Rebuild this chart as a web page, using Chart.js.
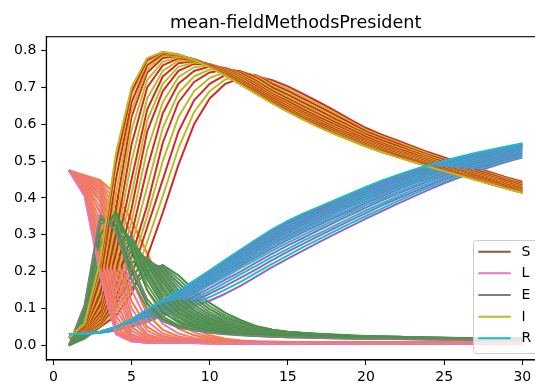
<!DOCTYPE html>
<html>
<head>
<meta charset="utf-8">
<title>mean-fieldMethodsPresident</title>
<script src="https://cdn.jsdelivr.net/npm/chart.js@4.4.1/dist/chart.umd.min.js"></script>
<style>
  html, body { margin: 0; padding: 0; background: #fff; }
  #wrap { width: 535px; height: 383px; overflow: hidden; position: relative; }
  canvas { display: block; }
</style>
</head>
<body>
<div id="wrap"><canvas id="chart" width="560" height="383"></canvas></div>
<script>
// mean-field runs: 20 runs, each plots S, L, E, I, R over 30 steps

const chartTitle = "mean-fieldMethodsPresident";
const xValues = [1,2,3,4,5,6,7,8,9,10,11,12,13,14,15,16,17,18,19,20,21,22,23,24,25,26,27,28,29,30];
const xTicks = [0, 5, 10, 15, 20, 25, 30];
const yTicks = [0.0, 0.1, 0.2, 0.3, 0.4, 0.5, 0.6, 0.7, 0.8];
const seriesNames = ["S", "L", "E", "I", "R"];
// matplotlib tab10 cycle
const palette = ["#1f77b4", "#ff7f0e", "#2ca02c", "#d62728", "#9467bd",
                 "#8c564b", "#e377c2", "#7f7f7f", "#bcbd22", "#17becf"];
const legendColors = ["#8c564b", "#e377c2", "#7f7f7f", "#bcbd22", "#17becf"];

// run 0 is drawn first (slowest), run 19 last (fastest)
const latentRuns = [
  [.475,.462,.448,.41,.34,.25,.155,.085,.045,.027, .018,.013,.011,.01,.009,.009,.009,.009,.009,.009, .009,.009,.009,.009,.008,.008,.008,.008,.008,.008],
  [.475,.46,.443,.393,.30,.20,.115,.063,.035,.022, .015,.012,.01,.009,.009,.008,.008,.008,.008,.008, .008,.008,.008,.008,.008,.008,.008,.008,.008,.008],
  [.475,.458,.437,.375,.26,.15,.08,.045,.027,.018, .013,.011,.009,.008,.008,.008,.008,.008,.008,.008, .008,.008,.008,.008,.008,.008,.008,.008,.008,.008],
  [.475,.456,.431,.353,.22,.115,.058,.032,.02,.014, .011,.009,.008,.008,.007,.007,.007,.007,.007,.007, .007,.007,.007,.007,.007,.007,.007,.007,.007,.007],
  [.475,.454,.425,.33,.18,.085,.042,.024,.016,.012, .01,.008,.007,.007,.007,.007,.007,.007,.007,.007, .007,.007,.007,.007,.007,.007,.007,.007,.007,.007],
  [.475,.452,.418,.305,.15,.066,.032,.019,.013,.01, .009,.008,.007,.006,.006,.006,.006,.006,.006,.006, .006,.006,.006,.006,.006,.006,.006,.006,.006,.006],
  [.475,.449,.41,.28,.12,.05,.025,.015,.011,.009, .008,.007,.006,.006,.006,.006,.006,.006,.006,.006, .006,.006,.006,.006,.006,.006,.006,.006,.006,.006],
  [.475,.447,.40,.25,.10,.04,.02,.013,.01,.008, .007,.006,.006,.006,.006,.006,.006,.006,.006,.006, .006,.006,.006,.006,.006,.006,.006,.006,.006,.006],
  [.475,.444,.39,.22,.08,.03,.016,.011,.009,.008, .007,.006,.006,.006,.006,.006,.006,.006,.006,.006, .006,.006,.006,.006,.006,.006,.006,.006,.006,.006],
  [.475,.441,.375,.195,.065,.025,.014,.01,.008,.007, .006,.006,.006,.006,.006,.006,.006,.006,.006,.006, .006,.006,.006,.006,.006,.006,.006,.006,.006,.006],
  [.475,.438,.36,.17,.05,.02,.012,.009,.008,.007, .006,.006,.006,.006,.006,.006,.006,.006,.006,.006, .006,.006,.006,.006,.006,.006,.006,.006,.006,.006],
  [.475,.435,.34,.145,.04,.016,.01,.008,.007,.006, .006,.006,.005,.005,.005,.005,.005,.005,.005,.005, .005,.005,.005,.005,.005,.005,.005,.005,.005,.005],
  [.475,.432,.32,.12,.03,.013,.009,.008,.007,.006, .006,.006,.005,.005,.005,.005,.005,.005,.005,.005, .005,.005,.005,.005,.005,.005,.005,.005,.005,.005],
  [.475,.428,.30,.10,.025,.011,.008,.007,.006,.006, .006,.005,.005,.005,.005,.005,.005,.005,.005,.005, .005,.005,.005,.005,.005,.005,.005,.005,.005,.005],
  [.475,.425,.28,.08,.02,.01,.008,.007,.006,.006, .006,.005,.005,.005,.005,.005,.005,.005,.005,.005, .005,.005,.005,.005,.005,.005,.005,.005,.005,.005],
  [.475,.42,.255,.065,.017,.009,.007,.006,.006,.006, .005,.005,.005,.005,.005,.005,.005,.005,.005,.005, .005,.005,.005,.005,.005,.005,.005,.005,.005,.005],
  [.475,.415,.23,.05,.014,.008,.007,.006,.006,.006, .005,.005,.005,.005,.005,.005,.005,.005,.005,.005, .005,.005,.005,.005,.005,.005,.005,.005,.005,.005],
  [.475,.41,.21,.04,.012,.007,.006,.006,.006,.005, .005,.005,.005,.005,.005,.005,.005,.005,.005,.005, .005,.005,.005,.005,.005,.005,.005,.005,.005,.005],
  [.475,.407,.20,.035,.011,.007,.006,.006,.006,.005, .005,.005,.005,.005,.005,.005,.005,.005,.005,.005, .005,.005,.005,.005,.005,.005,.005,.005,.005,.005],
  [.475,.405,.19,.03,.01,.007,.006,.006,.006,.005, .005,.005,.005,.005,.005,.005,.005,.005,.005,.005, .005,.005,.005,.005,.005,.005,.005,.005,.005,.005]
];

const exposedRuns = [
  [0,.018,.05,.1,.155,.2,.218,.19,.15,.115, .088,.068,.052,.042,.036,.033,.03,.028,.026,.025, .024,.023,.022,.021,.021,.02,.02,.019,.019,.019],
  [0,.02,.057,.115,.172,.213,.215,.18,.14,.106, .081,.064,.051,.042,.036,.033,.03,.028,.026,.025, .024,.023,.022,.021,.02,.02,.019,.019,.019,.018],
  [0,.022,.065,.13,.19,.225,.21,.17,.13,.098, .075,.06,.05,.042,.037,.033,.031,.029,.027,.025, .024,.023,.022,.021,.02,.02,.019,.019,.018,.018],
  [0,.025,.075,.148,.208,.232,.206,.16,.12,.09, .07,.056,.047,.04,.035,.032,.03,.028,.026,.025, .023,.022,.021,.021,.02,.019,.019,.018,.018,.018],
  [0,.027,.085,.165,.225,.235,.2,.15,.11,.083, .065,.052,.044,.038,.034,.031,.029,.027,.025,.024, .023,.022,.021,.02,.02,.019,.019,.018,.018,.018],
  [0,.03,.095,.183,.24,.237,.193,.14,.102,.077, .061,.05,.042,.036,.033,.03,.028,.026,.025,.023, .022,.021,.021,.02,.019,.019,.018,.018,.018,.017],
  [0,.032,.105,.2,.255,.235,.185,.13,.095,.072, .057,.047,.04,.035,.032,.029,.027,.026,.024,.023, .022,.021,.02,.02,.019,.019,.018,.018,.018,.017],
  [0,.035,.118,.22,.266,.234,.178,.122,.089,.067, .053,.045,.038,.034,.031,.028,.027,.025,.024,.023, .022,.021,.02,.019,.019,.018,.018,.018,.017,.017],
  [0,.038,.13,.24,.275,.23,.17,.115,.083,.063, .05,.043,.037,.033,.03,.028,.026,.025,.024,.022, .021,.021,.02,.019,.019,.018,.018,.018,.017,.017],
  [0,.041,.145,.26,.284,.225,.16,.107,.078,.06, .048,.041,.036,.032,.029,.027,.025,.024,.023,.022, .021,.02,.02,.019,.019,.018,.018,.017,.017,.017],
  [0,.045,.16,.28,.29,.22,.15,.1,.073,.057, .046,.04,.035,.031,.028,.026,.025,.024,.023,.022, .021,.02,.019,.019,.018,.018,.018,.017,.017,.017],
  [0,.05,.18,.30,.292,.21,.14,.094,.068,.053, .044,.038,.033,.03,.027,.026,.024,.023,.022,.021, .02,.02,.019,.019,.018,.018,.017,.017,.017,.016],
  [0,.055,.2,.32,.29,.2,.13,.088,.064,.05, .042,.036,.032,.029,.027,.025,.024,.023,.022,.021, .02,.019,.019,.018,.018,.018,.017,.017,.017,.016],
  [0,.062,.225,.335,.287,.19,.12,.081,.059,.047, .04,.034,.031,.028,.026,.024,.023,.022,.021,.02, .02,.019,.018,.018,.018,.017,.017,.017,.016,.016],
  [0,.07,.25,.345,.28,.18,.11,.075,.055,.045, .038,.033,.03,.027,.025,.024,.023,.022,.021,.02, .019,.019,.018,.018,.017,.017,.017,.016,.016,.016],
  [0,.08,.275,.355,.27,.165,.1,.068,.051,.042, .036,.032,.029,.026,.024,.023,.022,.021,.02,.02, .019,.018,.018,.017,.017,.017,.016,.016,.016,.016],
  [0,.09,.30,.362,.26,.15,.09,.062,.048,.04, .035,.031,.028,.026,.024,.023,.022,.021,.02,.019, .019,.018,.018,.017,.017,.017,.016,.016,.016,.016],
  [0,.10,.33,.34,.22,.125,.078,.055,.044,.037, .032,.029,.026,.024,.023,.022,.021,.02,.019,.018, .018,.017,.017,.017,.016,.016,.016,.015,.015,.015],
  [0,.105,.343,.325,.20,.112,.071,.051,.042,.035, .031,.028,.025,.024,.022,.021,.02,.019,.019,.018, .017,.017,.017,.016,.016,.016,.015,.015,.015,.015],
  [0,.11,.353,.31,.18,.10,.065,.048,.04,.034, .03,.027,.025,.023,.022,.021,.02,.019,.018,.018, .017,.017,.016,.016,.016,.015,.015,.015,.015,.015]
];

const infectedRuns = [
  [.02,.03,.05,.08,.14,.24,.36,.49,.60,.67, .71,.726,.73,.72,.703,.682,.660,.637,.613,.590, .572,.556,.540,.524,.510,.496,.482,.469,.456,.444],
  [.02,.031,.052,.095,.165,.28,.405,.535,.633,.69, .722,.734,.732,.714,.697,.675,.654,.631,.608,.585, .568,.552,.536,.52,.506,.493,.479,.466,.453,.441],
  [.02,.032,.055,.11,.19,.32,.45,.58,.665,.71, .734,.740,.733,.710,.691,.669,.648,.626,.603,.581, .564,.548,.532,.517,.503,.490,.476,.463,.450,.439],
  [.02,.032,.057,.12,.215,.35,.50,.62,.69,.726, .742,.743,.731,.705,.685,.663,.642,.62,.598,.577, .56,.544,.529,.514,.5,.487,.473,.46,.448,.436],
  [.02,.033,.06,.13,.24,.38,.55,.66,.715,.741, .749,.744,.727,.700,.680,.658,.637,.615,.594,.573, .556,.541,.526,.511,.497,.484,.471,.458,.446,.434],
  [.02,.034,.065,.145,.27,.43,.59,.685,.73,.749, .751,.741,.722,.695,.675,.653,.632,.61,.59,.569, .552,.537,.523,.508,.494,.481,.468,.456,.443,.432],
  [.02,.035,.07,.16,.30,.48,.63,.71,.745,.757, .753,.739,.717,.691,.670,.648,.627,.606,.586,.566, .549,.534,.520,.505,.492,.479,.466,.454,.441,.430],
  [.02,.035,.075,.18,.335,.53,.66,.728,.755,.76, .752,.736,.713,.687,.666,.644,.623,.602,.582,.562, .546,.531,.517,.503,.49,.477,.464,.452,.439,.428],
  [.02,.035,.08,.20,.37,.58,.69,.745,.764,.763, .751,.733,.709,.683,.662,.640,.619,.599,.579,.559, .544,.529,.515,.501,.488,.475,.462,.450,.437,.426],
  [.02,.038,.085,.225,.41,.61,.71,.756,.768,.763, .749,.73,.706,.68,.658,.636,.615,.595,.576,.556, .541,.527,.513,.499,.486,.473,.46,.448,.435,.424],
  [.02,.04,.09,.25,.45,.64,.73,.766,.772,.763, .747,.727,.703,.677,.655,.633,.612,.592,.573,.554, .539,.525,.511,.497,.484,.472,.459,.447,.434,.423],
  [.02,.04,.1,.275,.50,.67,.745,.773,.774,.762, .745,.724,.7,.674,.652,.63,.609,.589,.57,.552, .537,.523,.509,.495,.482,.47,.457,.445,.433,.421],
  [.02,.04,.11,.30,.545,.70,.76,.779,.776,.762, .743,.721,.697,.671,.649,.627,.606,.586,.568,.550, .535,.521,.507,.493,.481,.468,.456,.444,.432,.420],
  [.02,.042,.125,.335,.585,.72,.77,.783,.777,.761, .741,.718,.694,.668,.646,.624,.603,.583,.565,.548, .533,.519,.505,.491,.479,.467,.454,.442,.43,.419],
  [.02,.045,.14,.37,.62,.74,.78,.786,.777,.76, .74,.716,.692,.666,.643,.621,.601,.581,.563,.546, .531,.517,.504,.490,.478,.466,.453,.441,.429,.418],
  [.02,.048,.16,.41,.64,.75,.786,.787,.777,.758, .738,.714,.689,.663,.64,.618,.598,.579,.561,.544, .529,.515,.502,.489,.477,.464,.452,.44,.428,.417],
  [.02,.05,.18,.45,.66,.76,.791,.788,.776,.757, .736,.712,.687,.661,.638,.616,.596,.577,.560,.542, .528,.514,.501,.488,.476,.463,.451,.439,.427,.416],
  [.02,.055,.205,.485,.68,.77,.794,.789,.775,.756, .734,.709,.684,.659,.636,.614,.594,.575,.558,.541, .526,.512,.499,.486,.474,.462,.45,.438,.426,.415],
  [.02,.058,.22,.50,.69,.775,.796,.79,.775,.756, .733,.708,.683,.658,.635,.613,.593,.574,.557,.540, .525,.512,.498,.486,.473,.462,.45,.437,.426,.414],
  [.02,.06,.23,.52,.70,.78,.797,.79,.775,.755, .732,.707,.682,.657,.634,.612,.592,.573,.556,.539, .525,.511,.498,.485,.473,.461,.449,.437,.425,.414]
];

const recoveredRuns = [
  [.03,.031,.034,.04,.05,.064,.08,.095,.107,.121, .14,.162,.187,.212,.235,.258,.28,.302,.323,.344, .364,.384,.403,.422,.44,.456,.471,.485,.498,.51],
  [.03,.031,.034,.041,.052,.067,.084,.1,.114,.131, .151,.173,.197,.221,.244,.267,.288,.31,.331,.351, .371,.391,.41,.428,.445,.461,.475,.489,.502,.513],
  [.03,.031,.035,.042,.054,.07,.088,.105,.121,.14, .161,.184,.207,.231,.254,.276,.297,.318,.339,.359, .379,.398,.416,.434,.451,.466,.48,.493,.506,.517],
  [.03,.031,.035,.042,.055,.073,.092,.11,.127,.147, .17,.193,.216,.24,.262,.284,.304,.325,.346,.366, .385,.404,.422,.439,.456,.47,.484,.497,.509,.52],
  [.03,.031,.035,.043,.057,.076,.096,.115,.133,.155, .178,.201,.225,.249,.271,.292,.313,.334,.354,.374, .393,.411,.428,.445,.461,.475,.488,.501,.512,.523],
  [.03,.031,.035,.044,.058,.078,.099,.119,.139,.163, .186,.21,.233,.257,.279,.3,.32,.34,.36,.38, .398,.416,.433,.449,.465,.479,.491,.504,.515,.525],
  [.03,.031,.035,.045,.06,.08,.102,.123,.144,.168, .192,.216,.24,.264,.286,.307,.327,.347,.366,.386, .404,.422,.439,.454,.469,.483,.495,.507,.518,.528],
  [.03,.031,.035,.045,.061,.082,.104,.126,.147,.172, .196,.221,.245,.27,.292,.313,.332,.352,.371,.391, .409,.426,.443,.458,.473,.486,.498,.51,.52,.53],
  [.03,.032,.036,.046,.062,.084,.106,.129,.151,.176, .201,.226,.251,.276,.298,.319,.338,.358,.377,.396, .414,.431,.447,.462,.477,.49,.502,.513,.523,.533],
  [.03,.032,.036,.046,.063,.085,.108,.131,.154,.179, .205,.23,.255,.281,.303,.324,.343,.362,.381,.4, .418,.435,.45,.465,.48,.492,.504,.515,.525,.535],
  [.03,.032,.036,.047,.064,.087,.11,.134,.157,.183, .209,.235,.26,.286,.308,.329,.348,.367,.386,.405, .422,.439,.454,.469,.483,.495,.507,.517,.527,.537],
  [.03,.032,.036,.047,.065,.088,.112,.136,.159,.186, .212,.238,.264,.29,.312,.333,.352,.371,.39,.408, .426,.442,.457,.472,.485,.497,.509,.519,.529,.538],
  [.03,.032,.036,.048,.066,.09,.114,.138,.162,.189, .216,.242,.268,.294,.317,.337,.356,.375,.394,.412, .43,.446,.461,.475,.488,.5,.511,.521,.531,.54],
  [.03,.032,.036,.048,.066,.091,.115,.14,.164,.191, .219,.245,.272,.298,.321,.341,.36,.379,.397,.415, .433,.449,.464,.478,.49,.502,.513,.523,.533,.541],
  [.03,.032,.037,.049,.067,.093,.117,.142,.167,.194, .222,.249,.276,.302,.325,.345,.364,.382,.401,.419, .436,.452,.467,.48,.493,.505,.515,.525,.535,.543],
  [.03,.032,.037,.049,.068,.094,.118,.143,.169,.196, .224,.252,.279,.305,.328,.348,.367,.385,.404,.422, .439,.455,.469,.482,.495,.507,.517,.527,.536,.544],
  [.03,.032,.037,.049,.069,.095,.12,.145,.171,.199, .227,.255,.282,.309,.332,.352,.37,.389,.407,.425, .442,.457,.472,.485,.497,.509,.519,.528,.537,.546],
  [.03,.032,.037,.05,.069,.096,.121,.146,.173,.201, .229,.257,.285,.312,.335,.355,.373,.391,.41,.427, .444,.459,.474,.487,.499,.51,.52,.529,.538,.547],
  [.03,.032,.037,.05,.07,.096,.121,.147,.174,.202, .23,.258,.286,.313,.336,.356,.374,.392,.411,.429, .445,.46,.475,.488,.5,.511,.521,.53,.539,.547],
  [.03,.032,.037,.05,.07,.097,.122,.148,.175,.203, .232,.26,.288,.315,.338,.358,.376,.394,.412,.43, .447,.462,.476,.489,.501,.512,.522,.531,.54,.548]
];

const FONT = "DejaVu Sans";

function buildDatasets() {
  const families = [["L", latentRuns], ["E", exposedRuns], ["I", infectedRuns], ["R", recoveredRuns]];
  const out = [];
  for (let run = 0; run < latentRuns.length; run++) {
    families.forEach(([name, runs]) => {
      const idx = seriesNames.indexOf(name);
      out.push({
        label: name,
        data: runs[run].map((y, i) => ({ x: xValues[i], y })),
        borderColor: palette[(run % 2) * 5 + idx],
        borderWidth: 2,
        pointRadius: 0,
        tension: 0,
        fill: false,
        borderJoinStyle: "round",
      });
    });
  }
  // Chart.js paints dataset 0 last, matplotlib paints the last line last
  return out.reverse();
}

// title, top/right spines and the legend box
const decorations = {
  id: "decorations",
  afterDraw(chart) {
    const { ctx, chartArea: a } = chart;
    ctx.save();
    ctx.strokeStyle = "#000";
    ctx.lineWidth = 1.1;
    ctx.strokeRect(a.left, a.top, a.right - a.left, a.bottom - a.top);

    ctx.fillStyle = "#000";
    ctx.font = `17.6px "${FONT}"`;
    ctx.textAlign = "center";
    ctx.textBaseline = "alphabetic";
    ctx.fillText(chartTitle, (a.left + a.right) / 2, 28.4);

    // legend, lower right
    const bx = 473.5, by = 240.5, bw = 65, bh = 113, r = 3;
    ctx.beginPath();
    ctx.moveTo(bx + r, by);
    ctx.lineTo(bx + bw - r, by);
    ctx.arcTo(bx + bw, by, bx + bw, by + r, r);
    ctx.lineTo(bx + bw, by + bh - r);
    ctx.arcTo(bx + bw, by + bh, bx + bw - r, by + bh, r);
    ctx.lineTo(bx + r, by + bh);
    ctx.arcTo(bx, by + bh, bx, by + bh - r, r);
    ctx.lineTo(bx, by + r);
    ctx.arcTo(bx, by, bx + r, by, r);
    ctx.closePath();
    ctx.fillStyle = "rgba(255,255,255,0.8)";
    ctx.fill();
    ctx.strokeStyle = "#cccccc";
    ctx.lineWidth = 1;
    ctx.stroke();

    ctx.font = `14px "${FONT}"`;
    ctx.textAlign = "left";
    ctx.textBaseline = "middle";
    seriesNames.forEach((name, i) => {
      const y = 251.7 + i * 21.65;
      ctx.strokeStyle = legendColors[i];
      ctx.lineWidth = 2;
      ctx.beginPath();
      ctx.moveTo(478.3, y);
      ctx.lineTo(510.7, y);
      ctx.stroke();
      ctx.fillStyle = "#000";
      ctx.fillText(name, 521.5, y + 0.5);
    });
    ctx.restore();
  }
};

new Chart(document.getElementById("chart"), {
  type: "line",
  data: { datasets: buildDatasets() },
  options: {
    responsive: false,
    animation: false,
    devicePixelRatio: 1,
    layout: { padding: { left: 0, right: 15, top: 36.7, bottom: 0 } },
    plugins: { legend: { display: false }, tooltip: { enabled: false }, title: { display: false } },
    scales: {
      x: {
        type: "linear",
        min: -0.45,
        max: 31.45,
        afterBuildTicks: s => { s.ticks = xTicks.map(v => ({ value: v })); },
        afterFit: s => { s.height = 23; },
        grid: { drawOnChartArea: false, drawTicks: true, tickLength: 5, tickColor: "#000", tickWidth: 1.1 },
        border: { display: true, color: "#000", width: 1.1 },
        ticks: { color: "#000", font: { family: FONT, size: 14 }, padding: 4, maxRotation: 0,
                 callback: v => String(v) }
      },
      y: {
        min: -0.04,
        max: 0.838,
        afterBuildTicks: s => { s.ticks = yTicks.map(v => ({ value: v })); },
        afterFit: s => { s.width = 46.3; },
        grid: { drawOnChartArea: false, drawTicks: true, tickLength: 5, tickColor: "#000", tickWidth: 1.1 },
        border: { display: true, color: "#000", width: 1.1 },
        ticks: { color: "#000", font: { family: FONT, size: 14 }, padding: 5,
                 callback: v => v.toFixed(1) }
      }
    }
  },
  plugins: [decorations]
});
</script>
</body>
</html>
